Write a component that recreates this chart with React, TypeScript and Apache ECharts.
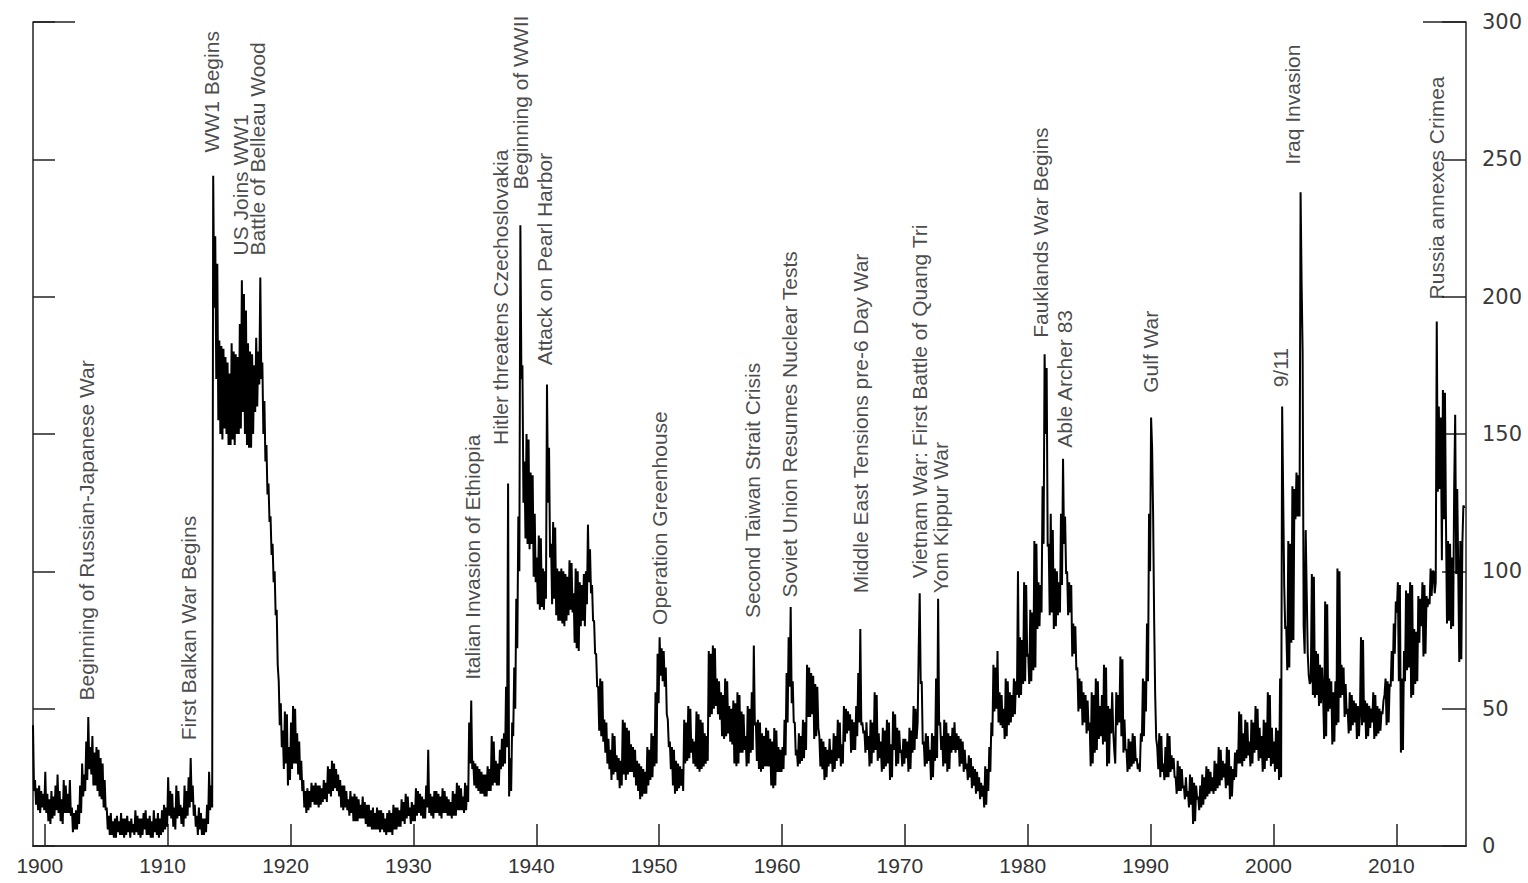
import React, { useEffect, useRef } from "react";
import * as echarts from "echarts";

// Picture-year coordinates of the horizontal axis
const X_MIN = 1899.04;
const X_MAX = 2015.67;
const STEP = 1 / 12; // monthly readings
const TICK_YEARS = [1900, 1910, 1920, 1930, 1940, 1950, 1960, 1970, 1980, 1990, 2000, 2010];

// Index values, twelve readings per year (one line per year)
const gpr1899_1918 = [
  44, 20, 24, 15, 21, 13, 22, 12, 20, 14, 19, 13,
  27, 12, 19, 9, 17, 8, 20, 10, 18, 11, 22, 13,
  26, 12, 20, 9, 17, 8, 24, 12, 22, 12, 19, 12,
  24, 11, 14, 5, 12, 6, 13, 6, 15, 8, 22, 12,
  30, 18, 26, 20, 38, 24, 47, 28, 36, 26, 40, 22,
  34, 22, 36, 20, 35, 18, 32, 17, 30, 14, 24, 13,
  14, 6, 11, 4, 12, 4, 9, 3, 10, 3, 11, 5,
  9, 4, 12, 4, 10, 3, 10, 4, 11, 5, 9, 3,
  10, 5, 8, 4, 13, 5, 11, 4, 10, 3, 10, 4,
  12, 6, 13, 4, 10, 4, 11, 3, 9, 3, 13, 5,
  10, 4, 12, 3, 10, 4, 13, 5, 15, 6, 14, 7,
  25, 11, 20, 10, 19, 7, 14, 6, 22, 10, 20, 11,
  15, 8, 14, 7, 22, 10, 20, 11, 25, 14, 32, 16,
  22, 11, 15, 7, 11, 4, 14, 6, 12, 4, 10, 4,
  10, 5, 15, 8, 27, 13, 22, 14, 244, 196, 222, 170,
  212, 155, 184, 150, 182, 148, 181, 152, 178, 150, 176, 146,
  172, 146, 183, 148, 180, 146, 179, 150, 178, 150, 190, 152,
  206, 158, 201, 150, 195, 146, 183, 145, 180, 145, 179, 150,
  175, 158, 185, 160, 180, 168, 207, 170, 176, 150, 162, 140,
  146, 128, 132, 118, 120, 106, 110, 96, 100, 84, 86, 66,
];
const gpr1919_1938 = [
  60, 44, 52, 36, 42, 28, 49, 30, 48, 22, 36, 24,
  45, 28, 51, 30, 50, 30, 41, 26, 38, 24, 31, 20,
  24, 14, 20, 12, 21, 13, 20, 14, 23, 16, 22, 15,
  23, 15, 22, 14, 22, 15, 21, 16, 24, 17, 23, 16,
  29, 19, 28, 18, 31, 20, 30, 21, 28, 20, 26, 18,
  24, 14, 22, 13, 22, 14, 20, 13, 17, 11, 20, 12,
  18, 9, 19, 9, 18, 9, 17, 10, 15, 10, 18, 10,
  16, 8, 15, 7, 15, 7, 13, 6, 14, 6, 12, 6,
  14, 6, 13, 5, 13, 6, 12, 5, 10, 4, 12, 5,
  13, 5, 12, 4, 15, 6, 14, 6, 14, 7, 13, 7,
  17, 9, 16, 8, 19, 10, 18, 11, 14, 8, 16, 9,
  15, 9, 21, 11, 20, 12, 19, 11, 18, 10, 17, 10,
  22, 14, 35, 12, 19, 11, 18, 10, 20, 12, 20, 12,
  19, 11, 18, 10, 21, 12, 20, 12, 18, 11, 17, 11,
  16, 10, 20, 11, 19, 11, 23, 13, 22, 13, 21, 13,
  18, 12, 23, 13, 22, 16, 45, 30, 53, 28, 31, 22,
  30, 21, 29, 20, 28, 19, 27, 19, 26, 18, 26, 18,
  29, 20, 28, 20, 40, 22, 38, 23, 31, 22, 30, 22,
  35, 28, 39, 29, 41, 30, 58, 36, 132, 18, 32, 20,
  45, 40, 65, 50, 90, 72, 120, 100, 226, 170, 175, 125,
];
const gpr1939_1958 = [
  140, 112, 150, 110, 148, 108, 136, 110, 135, 98, 121, 96,
  105, 88, 113, 86, 112, 87, 101, 86, 100, 90, 168, 125,
  145, 105, 110, 88, 118, 90, 116, 84, 101, 82, 100, 82,
  101, 81, 100, 80, 99, 82, 98, 84, 104, 86, 103, 85,
  92, 74, 101, 72, 100, 71, 96, 80, 95, 82, 99, 80,
  100, 88, 117, 96, 108, 92, 95, 82, 82, 70, 70, 58,
  58, 42, 61, 40, 60, 38, 46, 34, 45, 30, 39, 28,
  35, 24, 41, 26, 40, 27, 33, 24, 32, 21, 31, 22,
  46, 26, 45, 24, 43, 26, 42, 27, 37, 27, 36, 25,
  35, 22, 31, 20, 30, 17, 29, 18, 28, 19, 27, 19,
  36, 22, 35, 24, 41, 25, 40, 29, 56, 30, 70, 52,
  76, 62, 72, 60, 71, 58, 65, 48, 46, 36, 38, 28,
  36, 22, 35, 19, 31, 20, 30, 21, 29, 22, 28, 20,
  46, 30, 45, 31, 51, 32, 50, 34, 39, 30, 38, 29,
  49, 28, 48, 27, 46, 28, 45, 29, 41, 30, 40, 31,
  71, 47, 70, 48, 73, 50, 72, 51, 61, 48, 60, 46,
  56, 40, 55, 39, 61, 40, 60, 41, 51, 38, 50, 37,
  53, 30, 52, 29, 56, 30, 55, 34, 49, 34, 48, 35,
  40, 29, 51, 30, 50, 34, 56, 35, 73, 44, 45, 31,
  46, 28, 45, 27, 41, 28, 40, 29, 43, 29, 42, 29,
];
const gpr1959_1978 = [
  39, 22, 38, 21, 43, 22, 42, 27, 36, 27, 35, 27,
  36, 28, 46, 33, 63, 45, 76, 58, 87, 52, 60, 45,
  45, 33, 35, 29, 41, 30, 40, 31, 46, 32, 45, 35,
  66, 47, 65, 47, 63, 48, 62, 39, 59, 40, 58, 43,
  40, 29, 39, 28, 38, 24, 36, 25, 35, 29, 39, 30,
  35, 27, 41, 28, 40, 31, 46, 32, 45, 29, 37, 30,
  51, 38, 50, 41, 49, 42, 48, 34, 46, 35, 45, 35,
  51, 40, 63, 45, 79, 44, 45, 41, 42, 34, 45, 35,
  40, 29, 46, 30, 45, 34, 56, 35, 55, 31, 41, 32,
  38, 27, 43, 28, 42, 29, 46, 30, 45, 24, 37, 25,
  49, 35, 48, 29, 43, 30, 42, 34, 35, 29, 39, 30,
  39, 32, 38, 27, 43, 28, 42, 34, 51, 35, 50, 39,
  45, 71, 92, 59, 60, 37, 38, 29, 41, 30, 40, 31,
  35, 24, 41, 25, 40, 31, 61, 32, 90, 44, 45, 35,
  40, 29, 46, 30, 45, 27, 41, 28, 40, 34, 43, 35,
  45, 34, 41, 35, 40, 29, 39, 30, 38, 27, 35, 28,
  30, 24, 33, 25, 32, 21, 29, 22, 28, 19, 27, 20,
  25, 17, 23, 18, 22, 14, 29, 15, 28, 20, 36, 27,
  45, 40, 66, 49, 65, 50, 71, 45, 56, 44, 55, 43,
  50, 39, 61, 40, 60, 44, 56, 45, 55, 47, 61, 48,
];
const gpr1979_1998 = [
  60, 55, 100, 54, 76, 55, 75, 59, 96, 60, 95, 69,
  70, 59, 86, 60, 85, 64, 111, 65, 110, 79, 96, 80,
  95, 85, 131, 110, 179, 150, 174, 109, 110, 84, 121, 85,
  115, 79, 101, 80, 100, 84, 96, 85, 121, 95, 141, 110,
  120, 99, 100, 84, 96, 85, 95, 69, 81, 70, 80, 64,
  65, 49, 61, 50, 60, 44, 56, 45, 55, 41, 53, 42,
  45, 29, 56, 30, 55, 34, 61, 35, 60, 39, 51, 40,
  55, 37, 66, 38, 65, 29, 51, 30, 50, 41, 56, 42,
  35, 30, 56, 44, 55, 45, 69, 40, 68, 34, 46, 35,
  35, 27, 39, 28, 38, 29, 41, 30, 40, 31, 32, 28,
  30, 27, 41, 38, 61, 40, 60, 49, 81, 60, 121, 100,
  156, 145, 120, 82, 55, 39, 36, 28, 41, 25, 40, 27,
  30, 24, 36, 25, 41, 25, 40, 27, 33, 28, 32, 25,
  25, 19, 31, 20, 29, 20, 28, 21, 22, 17, 25, 18,
  20, 14, 26, 15, 25, 8, 23, 9, 22, 17, 18, 13,
  22, 14, 26, 15, 25, 17, 29, 18, 28, 19, 27, 20,
  25, 19, 31, 20, 30, 21, 36, 22, 35, 24, 31, 25,
  30, 21, 36, 22, 35, 17, 29, 18, 28, 24, 34, 25,
  35, 30, 49, 30, 48, 29, 41, 31, 46, 32, 45, 33,
  38, 29, 46, 30, 45, 34, 51, 35, 50, 31, 43, 32,
];
const gpr1999_2015 = [
  40, 27, 46, 28, 45, 31, 56, 32, 55, 29, 43, 30,
  38, 27, 43, 28, 42, 24, 61, 25, 160, 128, 95, 79,
  80, 64, 111, 65, 110, 74, 131, 75, 130, 119, 136, 120,
  135, 120, 238, 205, 180, 80, 70, 115, 92, 70, 62, 59,
  60, 99, 55, 98, 54, 71, 55, 70, 51, 66, 52, 65,
  55, 39, 89, 40, 88, 49, 61, 50, 60, 37, 56, 38,
  60, 44, 101, 45, 100, 54, 66, 55, 65, 47, 59, 48,
  50, 41, 56, 42, 55, 44, 53, 45, 52, 39, 51, 40,
  48, 76, 44, 75, 45, 53, 39, 52, 40, 51, 43, 50,
  45, 56, 39, 55, 40, 51, 41, 50, 42, 49, 48, 53,
  55, 61, 44, 60, 45, 59, 58, 71, 60, 81, 70, 89,
  85, 96, 60, 95, 34, 61, 35, 71, 60, 93, 64, 92,
  65, 96, 54, 95, 55, 79, 59, 78, 60, 91, 74, 90,
  80, 96, 69, 95, 70, 91, 87, 90, 88, 101, 91, 100,
  100, 92, 96, 191, 129, 160, 130, 156, 104, 166, 119, 165,
  118, 81, 111, 82, 110, 79, 105, 80, 130, 157, 99, 130,
  100, 67, 111, 68, 110, 124, 123,
];

// Event annotations: label text, picture-year, value where the text starts
const eventNames = [
  "Beginning of Russian-Japanese War",
  "First Balkan War Begins",
  "WW1 Begins",
  "US Joins WW1",
  "Battle of Belleau Wood",
  "Italian Invasion of Ethiopia",
  "Hitler threatens Czechoslovakia",
  "Beginning of WWII",
  "Attack on Pearl Harbor",
  "Operation Greenhouse",
  "Second Taiwan Strait Crisis",
  "Soviet Union Resumes Nuclear Tests",
  "Middle East Tensions pre-6 Day War",
  "Vietnam War: First Battle of Quang Tri",
  "Yom Kippur War",
  "Fauklands War Begins",
  "Able Archer 83",
  "Gulf War",
  "9/11",
  "Iraq Invasion",
  "Russia annexes Crimea",
];
const eventYears = [
  1903.4, 1911.66, 1913.6, 1915.9, 1917.35, 1934.77, 1937.05, 1938.7, 1940.7, 1950.07,
  1957.56, 1960.57, 1966.35, 1971.23, 1972.86, 1981.0, 1982.96, 1989.96, 2000.54, 2001.52, 2013.24,
];
const eventBaseValues = [
  53, 38.5, 252.5, 215, 215, 60.5, 146, 239, 175, 80.5,
  83, 90.5, 92, 97.5, 92, 185, 145, 165, 167, 248, 199,
];

export default function App() {
  const ref = useRef<HTMLDivElement>(null);

  useEffect(() => {
    if (!ref.current) return;
    const chart = echarts.init(ref.current, null, { renderer: "svg" });

    const values = [
      ...gpr1899_1918,
      ...gpr1919_1938,
      ...gpr1939_1958,
      ...gpr1959_1978,
      ...gpr1979_1998,
      ...gpr1999_2015,
    ];
    const lineData = values.map((v, i) => [X_MIN + i * STEP, v]);
    const eventData = eventNames.map((n, i) => ({
      name: n,
      value: [eventYears[i], eventBaseValues[i]],
    }));

    const axisColor = "#222";
    const yCommon = {
      type: "value",
      min: 0,
      max: 300,
      interval: 50,
      splitLine: { show: false },
      axisLine: { show: true, lineStyle: { color: axisColor, width: 1.5 } },
    };

    chart.setOption({
      animation: false,
      backgroundColor: "#ffffff",
      grid: { left: 33, right: 62, top: 22, bottom: 37 },
      xAxis: {
        type: "value",
        min: X_MIN,
        max: X_MAX,
        splitLine: { show: false },
        axisLine: { show: true, onZero: false, lineStyle: { color: "#333", width: 2 } },
        axisTick: {
          show: true,
          inside: true,
          length: 22,
          customValues: TICK_YEARS,
          lineStyle: { color: axisColor, width: 1.5 },
        },
        axisLabel: {
          customValues: TICK_YEARS,
          margin: 9,
          color: "#333",
          fontSize: 21,
          fontFamily: "'Liberation Sans', Arial, sans-serif",
          padding: [0, 10, 0, 0],
          formatter: (v: number) => String(Math.round(v)),
        },
      },
      yAxis: [
        {
          ...yCommon,
          position: "left",
          axisTick: { show: true, inside: true, length: 22, lineStyle: { color: axisColor, width: 1.5 } },
          axisLabel: { show: false },
        },
        {
          ...yCommon,
          position: "right",
          axisTick: { show: true, inside: true, length: 24, lineStyle: { color: axisColor, width: 1.5 } },
          axisLabel: {
            show: true,
            margin: 16,
            color: "#3a3a3a",
            fontSize: 21,
            fontFamily: "'DejaVu Sans', Verdana, sans-serif",
          },
        },
      ],
      series: [
        {
          type: "line",
          data: lineData,
          xAxisIndex: 0,
          yAxisIndex: 0,
          symbol: "none",
          silent: true,
          lineStyle: { color: "#000", width: 2 },
          z: 3,
        },
        {
          type: "scatter",
          data: eventData,
          xAxisIndex: 0,
          yAxisIndex: 0,
          symbolSize: 1,
          silent: true,
          itemStyle: { color: "rgba(0,0,0,0)" },
          label: {
            show: true,
            formatter: "{b}",
            position: "inside",
            rotate: 90,
            align: "left",
            verticalAlign: "middle",
            color: "#1a1a1a",
            fontSize: 21,
            fontFamily: "'Liberation Sans', Arial, sans-serif",
          },
          labelLayout: { hideOverlap: false },
          z: 4,
        },
      ],
    });

    const tl = chart.convertToPixel({ xAxisIndex: 0, yAxisIndex: 0 }, [X_MIN, 300]) as number[];
    const tr = chart.convertToPixel({ xAxisIndex: 0, yAxisIndex: 0 }, [X_MAX, 300]) as number[];
    chart.setOption({
      graphic: [
        {
          type: "line",
          shape: { x1: tl[0], y1: tl[1], x2: tl[0] + 42, y2: tl[1] },
          style: { stroke: axisColor, lineWidth: 1.5 },
        },
        {
          type: "line",
          shape: { x1: tr[0] - 43, y1: tr[1], x2: tr[0], y2: tr[1] },
          style: { stroke: axisColor, lineWidth: 1.5 },
        },
      ],
    });

    return () => chart.dispose();
  }, []);

  return (
    <div
      ref={ref}
      style={{ position: "fixed", left: 0, top: 0, width: 1528, height: 883, background: "#fff" }}
    />
  );
}
